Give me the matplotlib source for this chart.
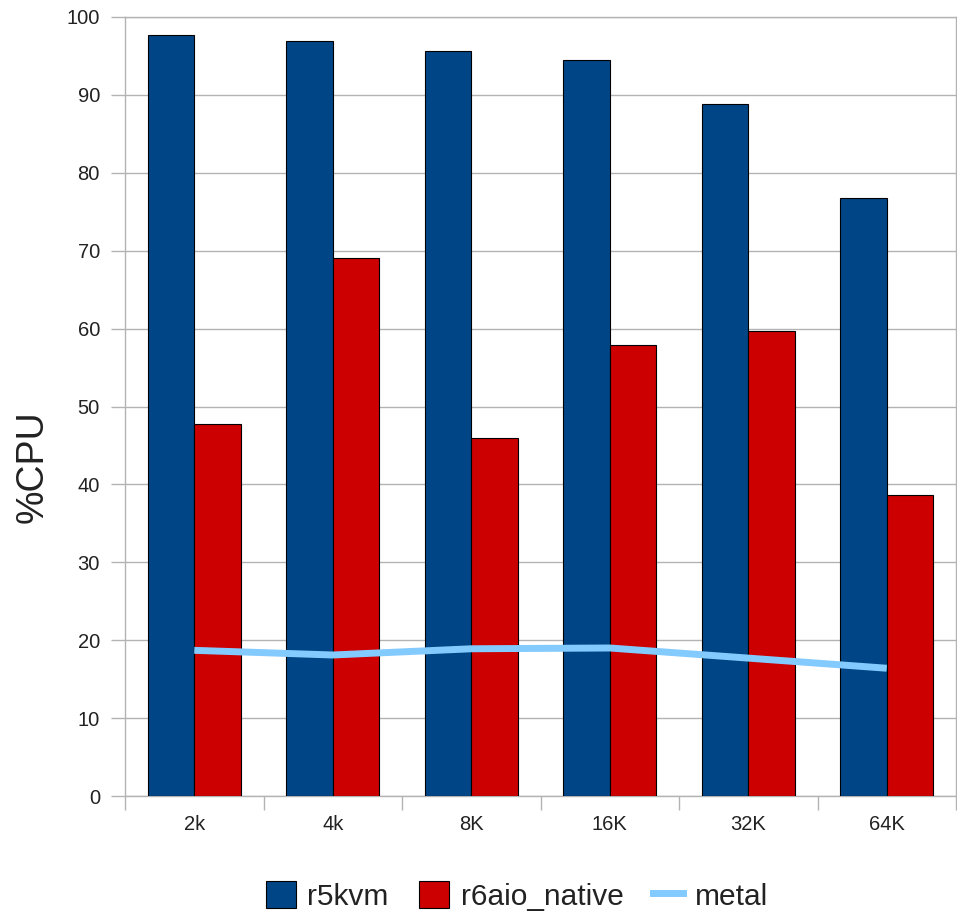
import matplotlib
matplotlib.use("Agg")
import matplotlib.pyplot as plt
import numpy as np
from matplotlib.lines import Line2D
from matplotlib.patches import Patch

categories = ["2k", "4k", "8K", "16K", "32K", "64K"]
r5kvm = [97.7, 96.9, 95.6, 94.5, 88.8, 76.8]
r6aio_native = [47.8, 69.1, 46.0, 57.9, 59.7, 38.6]
metal = [18.7, 18.1, 18.9, 19.0, 17.7, 16.4]

plt.rcParams['font.family'] = ['Liberation Sans', 'DejaVu Sans']

fig = plt.figure(figsize=(9.57, 9.14), dpi=100)
ax = fig.add_axes([125/957, 118/914, 831/957, 779/914])

x = np.arange(len(categories))
w = 0.336
ax.bar(x - w/2, r5kvm, w, color='#004586', edgecolor='black', linewidth=0.8, zorder=3)
ax.bar(x + w/2, r6aio_native, w, color='#cc0000', edgecolor='black', linewidth=0.8, zorder=3)
ax.plot(x, metal, color='#83caff', linewidth=5, zorder=4, solid_capstyle='butt')

ax.set_xlim(-0.5, len(categories) - 0.5)
ax.set_ylim(0, 100)
ax.set_yticks(range(0, 101, 10))
ax.yaxis.grid(True, color='#b3b3b3', linewidth=1)
ax.set_axisbelow(True)

ax.set_xticks(x)
ax.set_xticklabels(categories, fontsize=14.5, color='#222222')
ax.set_xticks(np.arange(-0.5, len(categories)), minor=True)
ax.tick_params(axis='x', which='major', length=0, pad=14)
ax.tick_params(axis='x', which='minor', length=10, color='#b3b3b3', width=1)
ax.tick_params(axis='y', length=10, color='#b3b3b3', width=1, labelsize=14.5, labelcolor='#222222', pad=8)

for s in ax.spines.values():
    s.set_color('#b3b3b3')
    s.set_linewidth(1)

fig.text(33/957, 1 - 467/914, '%CPU', fontsize=27, color='#222222',
         rotation=90, ha='center', va='center')

handles = [Patch(facecolor='#004586', edgecolor='black', linewidth=0.8),
           Patch(facecolor='#cc0000', edgecolor='black', linewidth=0.8),
           Line2D([0], [0], color='#83caff', linewidth=5)]
fig.legend(handles, ['r5kvm', 'r6aio_native', 'metal'], loc='center',
           bbox_to_anchor=(517/957, 1 - 896/914), ncol=3, frameon=False,
           fontsize=21.5, handlelength=1.0, handleheight=1.0, handletextpad=0.4,
           columnspacing=1.0, labelcolor='#222222')

fig.savefig('out.png', dpi=100)
